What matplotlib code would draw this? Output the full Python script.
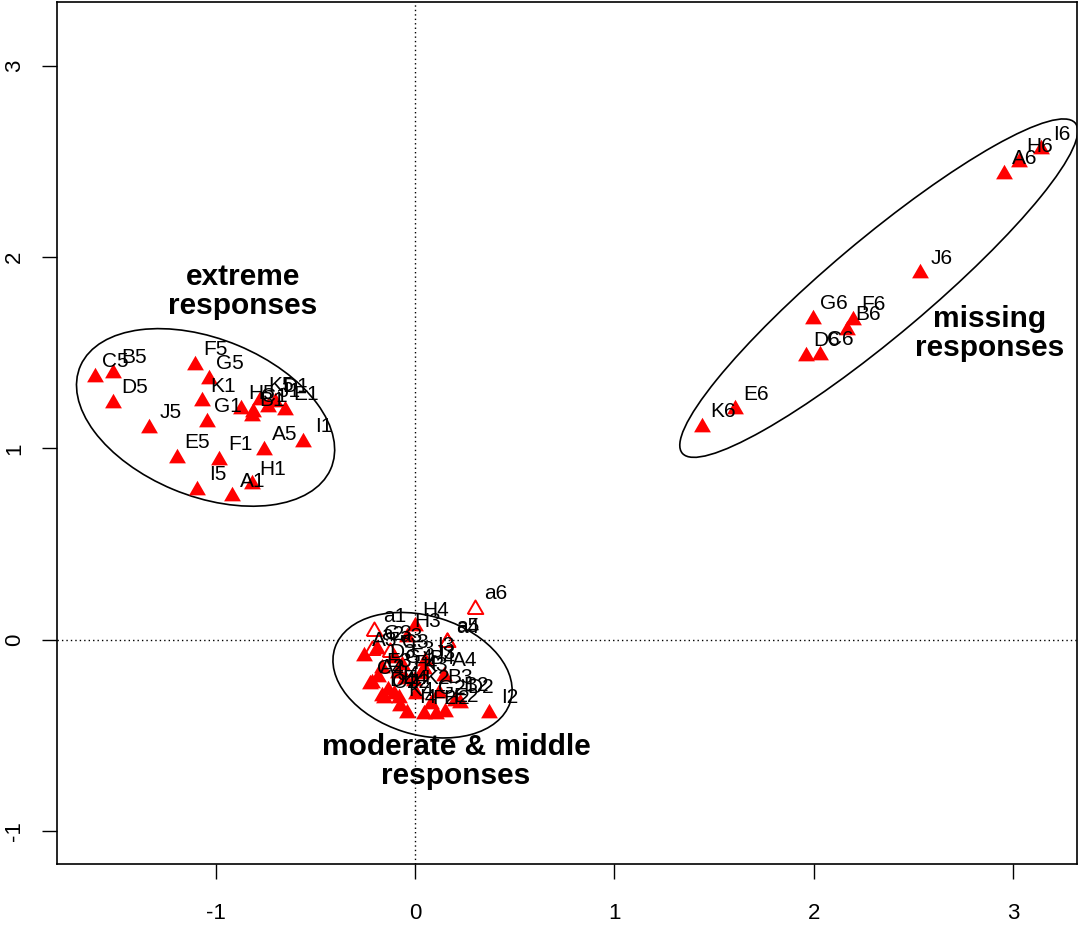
import matplotlib
matplotlib.use('Agg')
import matplotlib.pyplot as plt
import numpy as np
from matplotlib.patches import Ellipse

plt.rcParams['font.family'] = ['Liberation Sans', 'DejaVu Sans']
plt.rcParams['axes.unicode_minus'] = False

# ---- data: filled points (categories 1..6 of items A..K) ----
extreme_labels = ['C5', 'B5', 'F5', 'G5', 'D5', 'K1', 'J5', 'G1', 'H5', 'C1', 'B1',
                  'K5', 'J1', 'D1', 'E1', 'A5', 'I1', 'E5', 'F1', 'I5', 'A1', 'H1']
extreme_x = [-1.607, -1.512, -1.103, -1.033, -1.512, -1.066, -1.332, -1.044, -0.872, -0.810, -0.819,
             -0.777, -0.735, -0.702, -0.652, -0.757, -0.560, -1.195, -0.981, -1.091, -0.919, -0.819]
extreme_y = [1.373, 1.394, 1.435, 1.365, 1.237, 1.246, 1.108, 1.138, 1.208, 1.190, 1.168,
             1.251, 1.216, 1.243, 1.203, 0.993, 1.033, 0.949, 0.941, 0.785, 0.749, 0.812]

missing_labels = ['K6', 'E6', 'G6', 'D6', 'C6', 'F6', 'B6', 'J6', 'A6', 'H6', 'I6']
missing_x = [1.442, 1.604, 1.997, 1.960, 2.030, 2.197, 2.169, 2.535, 2.952, 3.029, 3.141]
missing_y = [1.112, 1.204, 1.679, 1.482, 1.487, 1.674, 1.621, 1.915, 2.435, 2.499, 2.564]

middle_labels = ['A2', 'B2', 'C2', 'D2', 'E2', 'F2', 'G2', 'H2', 'I2', 'J2', 'K2',
                 'A3', 'B3', 'C3', 'D3', 'E3', 'F3', 'G3', 'H3', 'I3', 'J3', 'K3',
                 'A4', 'B4', 'C4', 'D4', 'E4', 'F4', 'G4', 'H4', 'I4', 'J4', 'K4']
middle_x = [-0.216, 0.200, -0.155, 0.226, 0.150, 0.045, 0.080, 0.105, 0.371, -0.080, 0.005,
            -0.256, 0.120, -0.105, -0.165, -0.185, -0.065, -0.190, -0.040, 0.050, 0.045, -0.005,
            0.145, 0.030, -0.226, -0.165, -0.105, -0.050, -0.085, 0.000, -0.040, -0.135, -0.075]
middle_y = [-0.225, -0.319, -0.304, -0.330, -0.377, -0.387, -0.335, -0.387, -0.382, -0.304, -0.283,
            -0.084, -0.277, -0.094, -0.147, -0.194, -0.131, -0.047, 0.016, -0.110, -0.152, -0.215,
            -0.188, -0.178, -0.230, -0.293, -0.283, -0.204, -0.173, 0.073, -0.382, -0.262, -0.346]

# ---- supplementary points (open triangles) ----
supp_labels = ['a1', 'a2', 'a3', 'a4', 'a5', 'a6']
supp_x = [-0.204, -0.214, -0.125, 0.159, 0.160, 0.301]
supp_y = [0.043, -0.054, -0.063, -0.014, -0.010, 0.161]

fig = plt.figure(figsize=(10.8, 9.3), dpi=100)
ax = fig.add_axes([0.0528, 0.071, 0.9444, 0.927])

# equilateral triangle centred on its centroid (like R pch 17 / 2), closed path
tri = [(-0.866, -0.5), (0.866, -0.5), (0.0, 1.0), (-0.866, -0.5)]

ax.axhline(0, color='black', lw=1, ls=(0, (1, 2.2)), zorder=1)
ax.axvline(0, color='black', lw=1, ls=(0, (1, 2.2)), zorder=1)

all_x = extreme_x + missing_x + middle_x
all_y = extreme_y + missing_y + middle_y
all_lab = extreme_labels + missing_labels + middle_labels
ax.plot(all_x, all_y, ls='none', marker=tri, ms=14, color='#ff0000', mew=0, zorder=3)
ax.plot(supp_x, supp_y, ls='none', marker=tri, ms=13, mfc='none', mec='#ff0000', mew=1.4, zorder=3)

for x, y, s in zip(all_x + supp_x, all_y + supp_y, all_lab + supp_labels):
    ax.annotate(s, (x, y), xytext=(15, 11), textcoords='offset points',
                ha='center', va='center', fontsize=15, color='black', zorder=4)

# confidence ellipses
ax.add_patch(Ellipse((-1.05, 1.162), 1.366, 0.82, angle=-23.5, fill=False, ec='black', lw=1.2, zorder=2))
ax.add_patch(Ellipse((2.326, 1.838), 2.62, 0.50, angle=41.3, fill=False, ec='black', lw=1.2, zorder=2))
ax.add_patch(Ellipse((0.038, -0.186), 0.924, 0.62, angle=-18.3, fill=False, ec='black', lw=1.2, zorder=2))

bold = dict(fontsize=21.5, fontweight='bold', ha='center', va='center', linespacing=1.05)
ax.text(-0.862, 1.822, 'extreme\nresponses', **bold)
ax.text(2.882, 1.602, 'missing\nresponses', **bold)
ax.text(0.206, -0.639, 'moderate & middle\nresponses', **bold)

ax.set_xlim(-1.795, 3.32)
ax.set_ylim(-1.173, 3.335)
ax.set_xticks([-1, 0, 1, 2, 3])
ax.set_yticks([-1, 0, 1, 2, 3])
ax.tick_params(direction='out', length=11, width=1, labelsize=16)
ax.tick_params(axis='x', pad=17)
ax.tick_params(axis='y', pad=12)
for lab in ax.get_yticklabels():
    lab.set_rotation(90)
    lab.set_va('center')
for sp in ax.spines.values():
    sp.set_linewidth(1.2)

fig.savefig('out.png', dpi=100)
